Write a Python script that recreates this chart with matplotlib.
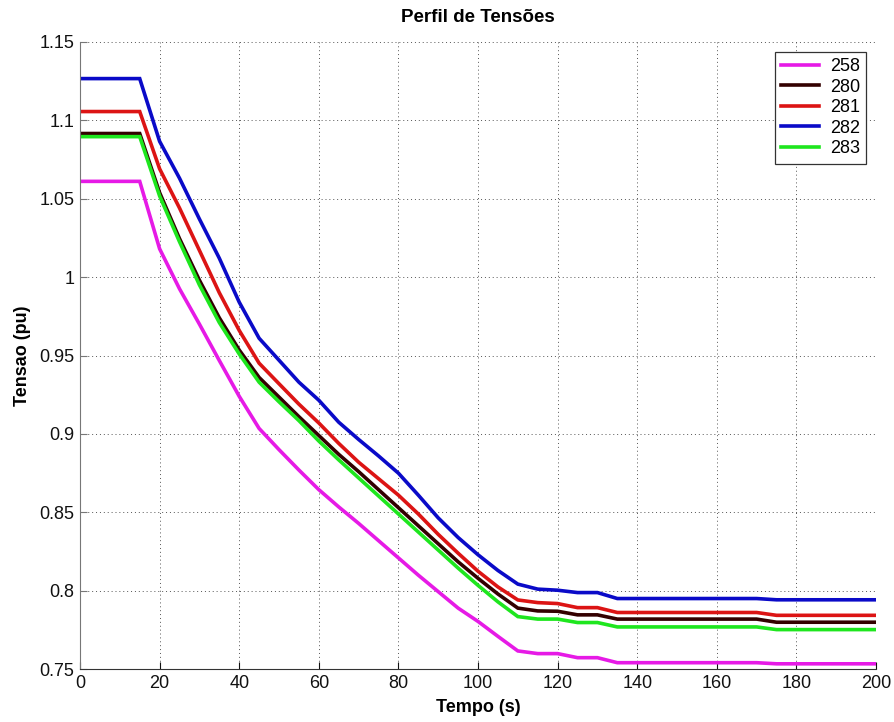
import matplotlib
matplotlib.use("Agg")
import matplotlib.pyplot as plt
from matplotlib.ticker import FixedLocator

plt.rcParams['font.family'] = ['Liberation Sans', 'DejaVu Sans']

# Tempo (s) at the sampled breakpoints
tempo = [0, 15, 20, 25, 30, 35, 40, 45, 50, 55, 60, 65, 70, 75, 80, 85, 90,
         95, 100, 105, 110, 115, 120, 125, 130, 135, 170, 175, 200]

# Bus voltages (pu)
v258 = [1.061, 1.061, 1.018, 0.9925, 0.970, 0.9468, 0.924, 0.9035, 0.890,
        0.877, 0.8645, 0.8535, 0.843, 0.832, 0.821, 0.810, 0.7995, 0.789,
        0.7805, 0.771, 0.7617, 0.760, 0.760, 0.7574, 0.7574, 0.7542, 0.7542,
        0.7535, 0.7535]
v280 = [1.0915, 1.0915, 1.0538, 1.0245, 0.998, 0.974, 0.9535, 0.936, 0.9235,
        0.911, 0.899, 0.887, 0.876, 0.8645, 0.853, 0.8415, 0.830, 0.8185,
        0.808, 0.798, 0.789, 0.7872, 0.787, 0.7847, 0.7847, 0.782, 0.782,
        0.780, 0.780]
v281 = [1.1055, 1.1055, 1.069, 1.044, 1.017, 0.990, 0.966, 0.9451, 0.932,
        0.919, 0.907, 0.894, 0.882, 0.8715, 0.861, 0.849, 0.836, 0.824,
        0.8125, 0.8025, 0.7942, 0.7925, 0.7919, 0.7893, 0.7893, 0.7862,
        0.7862, 0.7844, 0.7844]
v282 = [1.1265, 1.1265, 1.0865, 1.063, 1.037, 1.012, 0.984, 0.961, 0.947,
        0.933, 0.9215, 0.9075, 0.8965, 0.886, 0.875, 0.861, 0.8465, 0.834,
        0.823, 0.813, 0.8043, 0.8011, 0.8004, 0.7989, 0.7989, 0.7951, 0.7951,
        0.7943, 0.7943]
v283 = [1.0895, 1.0895, 1.0517, 1.0225, 0.995, 0.971, 0.951, 0.933, 0.9205,
        0.9085, 0.8955, 0.8835, 0.872, 0.8605, 0.849, 0.8375, 0.826, 0.8145,
        0.8035, 0.793, 0.7836, 0.782, 0.782, 0.7798, 0.7798, 0.777, 0.777,
        0.7753, 0.7753]

barras = ['258', '280', '281', '282', '283']
cores = ['#e61ae6', '#330000', '#dc1414', '#0a0ac8', '#1ee61e']

xticks = [0, 20, 40, 60, 80, 100, 120, 140, 160, 180, 200]
yticks = [0.75, 0.8, 0.85, 0.9, 0.95, 1.0, 1.05, 1.1, 1.15]
ytick_labels = ['0.75', '0.8', '0.85', '0.9', '0.95', '1', '1.05', '1.1', '1.15']

fig = plt.figure(figsize=(8.95, 7.22), dpi=100)
ax = fig.add_axes([0.0894, 0.073, 0.8894, 0.8692])

for serie, nome, cor in zip([v258, v280, v281, v282, v283], barras, cores):
    ax.plot(tempo, serie, color=cor, linewidth=2.6, label=nome,
            solid_joinstyle='miter')

ax.set_xlim(0, 200)
ax.set_ylim(0.75, 1.15)
ax.xaxis.set_major_locator(FixedLocator(xticks))
ax.set_xticklabels([str(t) for t in xticks])
ax.yaxis.set_major_locator(FixedLocator(yticks))
ax.set_yticklabels(ytick_labels)

ax.grid(True, linestyle=(0, (1, 3)), color='#555555', linewidth=0.7)
ax.set_axisbelow(True)
for lado in ('top', 'right'):
    ax.spines[lado].set_visible(False)
ax.spines['left'].set_color('#777777')
ax.spines['bottom'].set_color('#333333')
ax.tick_params(direction='in', length=5, labelsize=13, colors='#111111',
               pad=4)
ax.tick_params(axis='y', colors='#777777', labelcolor='#111111')

ax.set_title('Perfil de Tensões', fontsize=13.5, fontweight='bold', pad=14)
ax.set_xlabel('Tempo (s)', fontsize=13, fontweight='bold', labelpad=5)
ax.set_ylabel('Tensao (pu)', fontsize=13, fontweight='bold', labelpad=6)

leg = ax.legend(loc='upper right', fontsize=13, handlelength=2.1,
                handletextpad=0.6, labelspacing=0.2, borderpad=0.35,
                fancybox=False, framealpha=1, edgecolor='#333333',
                borderaxespad=0.55)
leg.get_frame().set_linewidth(0.9)

fig.savefig('out.png', dpi=100, facecolor='white')
